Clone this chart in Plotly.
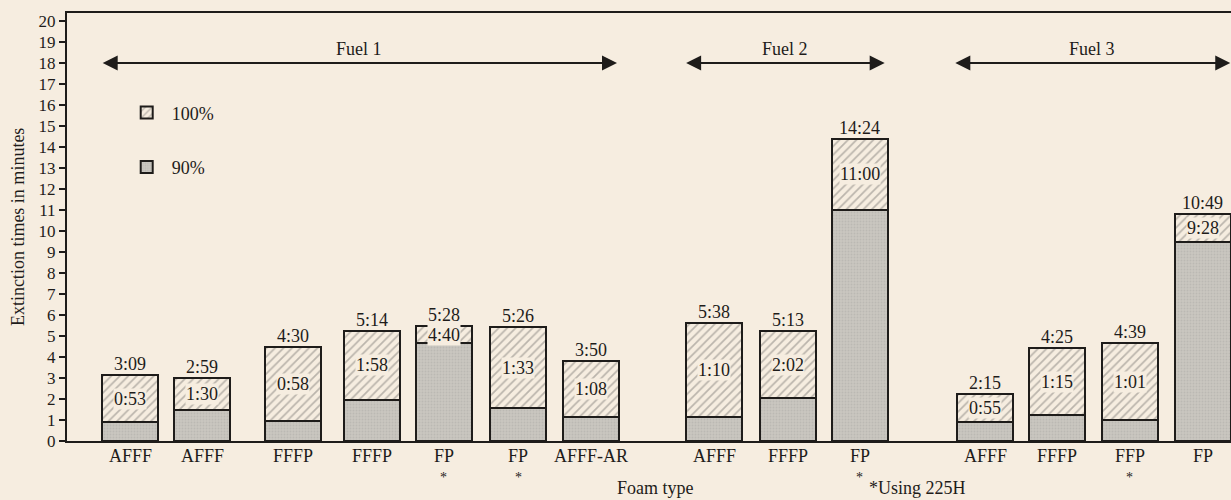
import plotly.graph_objects as go

# ---------------- data ----------------
foam_types = ["AFFF", "AFFF", "FFFP", "FFFP", "FP", "FP", "AFFF-AR",
              "AFFF", "FFFP", "FP",
              "AFFF", "FFFP", "FFP", "FP"]
uses_225h = [False, False, False, False, True, True, False,
             False, False, True,
             False, False, True, False]
time_90 = ["0:53", "1:30", "0:58", "1:58", "4:40", "1:33", "1:08",
           "1:10", "2:02", "11:00",
           "0:55", "1:15", "1:01", "9:28"]
time_100 = ["3:09", "2:59", "4:30", "5:14", "5:28", "5:26", "3:50",
            "5:38", "5:13", "14:24",
            "2:15", "4:25", "4:39", "10:49"]
fuel_names = ["Fuel 1", "Fuel 2", "Fuel 3"]
y_ticks = list(range(0, 21))

# ---------------- layout helpers (positions / styles) ----------------
x_slots = [0.87, 1.86, 3.11, 4.19, 5.18, 6.20, 7.20,
           8.90, 9.91, 10.90,
           12.62, 13.61, 14.61, 15.61]
fuel_spans = [(0.47, 7.56), (8.49, 11.24), (12.19, 15.99)]
arrow_level = 18.0

BG = "#f6ede0"
GRAY = "#c9c6c0"
HATCH = "#7f7c78"
INK = "#1e1c1a"
FONT = "Liberation Serif"
FS = 18


def to_min(s):
    m, sec = s.split(":")
    return int(m) + int(sec) / 60.0


v90 = [to_min(s) for s in time_90]
v100 = [to_min(s) for s in time_100]
extra = [b - a for a, b in zip(v90, v100)]

fig = go.Figure()
fig.add_trace(go.Bar(
    x=x_slots, y=v90, name="90%", width=0.77,
    legendrank=2, legendgroup="g90",
    marker=dict(color=GRAY, line=dict(color=INK, width=2),
                pattern=dict(shape=".", fgcolor="#aeaba5", bgcolor=GRAY,
                             size=3, solidity=0.3)),
    hoverinfo="skip",
))
fig.add_trace(go.Bar(
    x=x_slots, y=extra, name="100%", width=0.77,
    legendrank=1, legendgroup="g100",
    marker=dict(color=BG, line=dict(color=INK, width=2),
                pattern=dict(shape="/", fgcolor=HATCH, bgcolor=BG,
                             size=6, solidity=0.28)),
    hoverinfo="skip",
))

annotations = []
for xs, a, b, t90, t100 in zip(x_slots, v90, v100, time_90, time_100):
    annotations.append(dict(x=xs, y=b, text=t100, showarrow=False,
                            yanchor="middle", yshift=11,
                            font=dict(family=FONT, size=FS, color=INK)))
    annotations.append(dict(x=xs, y=(a + b) / 2, text=t90, showarrow=False,
                            yanchor="middle", bgcolor=BG, borderpad=0,
                            font=dict(family=FONT, size=FS, color=INK)))

for xs, ft, star in zip(x_slots, foam_types, uses_225h):
    annotations.append(dict(x=xs, xref="x", yref="paper", y=-0.035,
                            text=ft, showarrow=False, yanchor="middle",
                            font=dict(family=FONT, size=FS, color=INK)))
    if star:
        annotations.append(dict(x=xs, xref="x", yref="paper", y=-0.064,
                                text="*", showarrow=False, yanchor="top",
                                font=dict(family=FONT, size=14, color=INK)))

for name, (x0, x1) in zip(fuel_names, fuel_spans):
    annotations.append(dict(x=x1, y=arrow_level, ax=x0, ay=arrow_level,
                            xref="x", yref="y", axref="x", ayref="y",
                            text="", showarrow=True, arrowside="end+start",
                            arrowhead=2, arrowsize=1.5, arrowwidth=2,
                            arrowcolor=INK))
    annotations.append(dict(x=(x0 + x1) / 2, y=arrow_level, text=name,
                            showarrow=False, yanchor="middle", yshift=14,
                            font=dict(family=FONT, size=FS, color=INK)))

annotations.append(dict(xref="paper", yref="paper", x=-0.042, y=0.5,
                        xanchor="center", yanchor="middle",
                        text="Extinction times in minutes", textangle=-90,
                        showarrow=False,
                        font=dict(family=FONT, size=FS, color=INK)))
annotations.append(dict(xref="paper", yref="paper", x=0.506, y=-0.1375,
                        text="Foam type", showarrow=False, yanchor="bottom",
                        font=dict(family=FONT, size=FS, color=INK)))
annotations.append(dict(xref="paper", yref="paper", x=0.774, y=-0.1375,
                        text="*Using 225H", showarrow=False, yanchor="bottom",
                        font=dict(family=FONT, size=FS, color=INK)))

fig.update_layout(
    width=1231, height=500,
    margin=dict(l=67, r=0, t=13, b=59),
    paper_bgcolor=BG, plot_bgcolor=BG,
    barmode="stack", bargap=0,
    font=dict(family=FONT, size=FS, color=INK),
    showlegend=True,
    legend=dict(x=0.047, y=0.81, xanchor="left", yanchor="top",
                traceorder="grouped", tracegroupgap=28,
                itemwidth=40,
                bgcolor="rgba(0,0,0,0)",
                font=dict(family=FONT, size=FS, color=INK)),
    annotations=annotations,
    xaxis=dict(range=[0, 16], tickvals=x_slots, showticklabels=False,
               showline=True, linecolor=INK, linewidth=2, mirror=True,
               ticks="", showgrid=False, zeroline=False),
    yaxis=dict(range=[0, 20.38], tickvals=y_ticks,
               showline=True, linecolor=INK, linewidth=2,
               ticks="outside", ticklen=6, tickwidth=2, tickcolor=INK,
               showgrid=False, zeroline=False,
               tickfont=dict(family=FONT, size=17, color=INK)),
)

fig.write_html(
    "out.html",
    config={"displayModeBar": False},
    post_script="document.body.style.margin='0';"
                "document.body.style.background='#f6ede0';",
)
